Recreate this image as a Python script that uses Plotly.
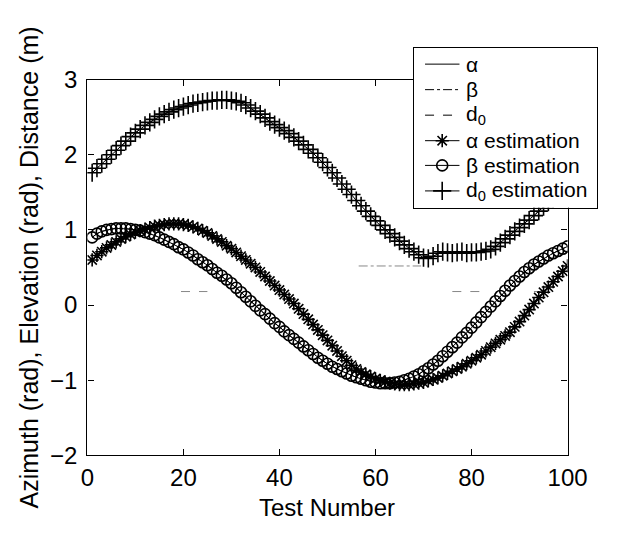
import plotly.graph_objects as go

test_number = list(range(1, 101))

alpha_vals = [0.60, 0.66, 0.71, 0.76, 0.80, 0.84, 0.88, 0.91, 0.94, 0.97,
              0.99, 1.01, 1.03, 1.05, 1.06, 1.07, 1.08, 1.08, 1.08, 1.07,
              1.06, 1.04, 1.02, 0.99, 0.96, 0.92, 0.88, 0.84, 0.79, 0.75,
              0.70, 0.65, 0.60, 0.55, 0.50, 0.44, 0.38, 0.32, 0.26, 0.20,
              0.14, 0.08, 0.02, -0.05, -0.12, -0.19, -0.26, -0.33, -0.40, -0.47,
              -0.54, -0.61, -0.68, -0.74, -0.80, -0.85, -0.89, -0.92, -0.95, -0.98,
              -1.00, -1.02, -1.04, -1.05, -1.06, -1.06, -1.06, -1.05, -1.04, -1.03,
              -1.01, -0.99, -0.97, -0.94, -0.91, -0.88, -0.85, -0.82, -0.78, -0.74,
              -0.70, -0.66, -0.61, -0.56, -0.51, -0.46, -0.41, -0.36, -0.29, -0.22,
              -0.14, -0.06, 0.02, 0.10, 0.17, 0.24, 0.31, 0.38, 0.45, 0.52]

beta_vals = [0.90, 0.95, 0.98, 1.00, 1.01, 1.02, 1.02, 1.02, 1.01, 1.00,
             0.99, 0.97, 0.95, 0.93, 0.90, 0.87, 0.84, 0.81, 0.77, 0.74,
             0.70, 0.66, 0.61, 0.57, 0.53, 0.48, 0.43, 0.39, 0.34, 0.29,
             0.23, 0.17, 0.11, 0.05, -0.01, -0.07, -0.12, -0.18, -0.24, -0.29,
             -0.35, -0.40, -0.45, -0.50, -0.55, -0.60, -0.65, -0.70, -0.74, -0.78,
             -0.82, -0.85, -0.88, -0.91, -0.94, -0.96, -0.98, -1.00, -1.02, -1.03,
             -1.04, -1.04, -1.04, -1.03, -1.02, -1.00, -0.98, -0.95, -0.92, -0.88,
             -0.84, -0.79, -0.74, -0.68, -0.62, -0.56, -0.50, -0.43, -0.37, -0.30,
             -0.23, -0.16, -0.09, -0.02, 0.05, 0.12, 0.19, 0.26, 0.32, 0.38,
             0.44, 0.49, 0.54, 0.58, 0.62, 0.66, 0.69, 0.72, 0.75, 0.78]

d0_vals = [1.76, 1.82, 1.88, 1.94, 2.00, 2.06, 2.12, 2.18, 2.24, 2.29,
           2.34, 2.39, 2.43, 2.47, 2.51, 2.54, 2.57, 2.60, 2.62, 2.64,
           2.66, 2.68, 2.69, 2.70, 2.71, 2.72, 2.72, 2.73, 2.73, 2.72,
           2.71, 2.69, 2.66, 2.62, 2.58, 2.54, 2.49, 2.44, 2.40, 2.36,
           2.32, 2.28, 2.23, 2.18, 2.13, 2.07, 2.02, 1.96, 1.90, 1.83,
           1.76, 1.69, 1.61, 1.54, 1.47, 1.39, 1.32, 1.25, 1.18, 1.12,
           1.06, 1.00, 0.95, 0.90, 0.85, 0.80, 0.75, 0.71, 0.67, 0.63,
           0.62, 0.65, 0.69, 0.71, 0.70, 0.69, 0.70, 0.71, 0.69, 0.70,
           0.70, 0.71, 0.72, 0.74, 0.78, 0.83, 0.88, 0.93, 0.98, 1.03,
           1.08, 1.13, 1.19, 1.25, 1.31, 1.37, 1.42, 1.47, 1.52, 1.57]

# faint horizontal dashed segments visible in the scan
seg_a_x = [56.5, 69.5]
seg_a_y = [0.52, 0.52]
seg_b_x = [19.5, 25.0, None, 76.0, 82.0, None, 93.0, 94.5]
seg_b_y = [0.18, 0.18, None, 0.18, 0.18, None, 0.18, 0.18]

x_ticks = [0, 20, 40, 60, 80, 100]
y_ticks = [-2, -1, 0, 1, 2, 3]
y_tick_text = ["−2", "−1", "0", "1", "2", "3"]

legend_labels = ["α", "β", "d<sub>0</sub>", "α estimation", "β estimation", "d<sub>0</sub> estimation"]
legend_row_y = [0.90, 0.74, 0.58, 0.42, 0.265, 0.105]

FONT = "Liberation Sans, Arial, sans-serif"
BLACK = "black"
W, H = 622, 533
PLOT_L, PLOT_R, PLOT_T, PLOT_B = 84, 586, 69, 465
LEG_L, LEG_R, LEG_T, LEG_B = 425, 617, 36, 204

line_styles = [dict(width=1, dash="solid"), dict(width=1, dash="dashdot"), dict(width=1, dash="dash"),
               dict(width=1, dash="solid"), dict(width=1, dash="solid"), dict(width=1, dash="solid")]
marker_styles = [None, None, None,
                 dict(symbol="asterisk-open", size=11),
                 dict(symbol="circle-open", size=11),
                 dict(symbol="cross-thin-open", size=13)]

fig = go.Figure()
fig.add_trace(go.Scatter(x=seg_a_x, y=seg_a_y, mode="lines", showlegend=False,
                         line=dict(color="#888", width=1, dash="dashdot")))
fig.add_trace(go.Scatter(x=seg_b_x, y=seg_b_y, mode="lines", showlegend=False,
                         line=dict(color="#888", width=1, dash="dash")))

series = [alpha_vals, beta_vals, d0_vals, alpha_vals, beta_vals, d0_vals]
for i, vals in enumerate(series):
    ms = marker_styles[i]
    kw = dict(x=test_number, y=vals, showlegend=False, name=legend_labels[i],
              line=dict(color=BLACK, **line_styles[i]))
    if ms is None:
        fig.add_trace(go.Scatter(mode="lines", **kw))
    else:
        fig.add_trace(go.Scatter(mode="lines+markers",
                                 marker=dict(color=BLACK, line=dict(color=BLACK, width=1.6), **ms), **kw))

# legend box drawn as an inset subplot (opaque, like MATLAB's legend)
for i in range(6):
    ms = marker_styles[i]
    fig.add_trace(go.Scatter(x=[0.0625, 0.25], y=[legend_row_y[i]] * 2, mode="lines",
                             xaxis="x2", yaxis="y2", showlegend=False, hoverinfo="skip",
                             line=dict(color=BLACK, **line_styles[i])))
    if ms is not None:
        fig.add_trace(go.Scatter(x=[0.156], y=[legend_row_y[i]], mode="markers",
                                 xaxis="x2", yaxis="y2", showlegend=False, hoverinfo="skip",
                                 marker=dict(color=BLACK, line=dict(color=BLACK, width=1.6), **ms)))
    fig.add_annotation(x=0.28, y=legend_row_y[i], xref="x2", yref="y2", text=legend_labels[i],
                       showarrow=False, xanchor="left", yanchor="middle", borderpad=0,
                       font=dict(family=FONT, size=21, color=BLACK))

axis_common = dict(showline=True, linecolor=BLACK, linewidth=1.3, mirror="ticks",
                   ticks="inside", ticklen=6, tickcolor=BLACK, showgrid=False,
                   zeroline=False, tickfont=dict(family=FONT, size=24, color=BLACK))

fig.add_annotation(x=(PLOT_L + PLOT_R) / 2 / W, y=1 - 520 / H, xref="paper", yref="paper",
                   text="Test Number", showarrow=False, xanchor="center", yanchor="middle",
                   borderpad=0, font=dict(family=FONT, size=24, color=BLACK))
fig.add_annotation(x=23 / W, y=1 - (PLOT_T + PLOT_B) / 2 / H, xref="paper", yref="paper",
                   text="Azimuth (rad), Elevation (rad), Distance (m)", textangle=-90,
                   showarrow=False, xanchor="center", yanchor="middle",
                   borderpad=0, font=dict(family=FONT, size=25, color=BLACK))

fig.update_layout(
    width=W, height=H,
    margin=dict(l=0, r=0, t=0, b=0),
    paper_bgcolor="white", plot_bgcolor="white",
    font=dict(family=FONT, color=BLACK),
    showlegend=False,
    xaxis=dict(range=[0, 100], tickvals=x_ticks, domain=[PLOT_L / W, PLOT_R / W],
               ticklabelstandoff=1, **axis_common),
    yaxis=dict(range=[-2, 3], tickvals=y_ticks, ticktext=y_tick_text,
               domain=[1 - PLOT_B / H, 1 - PLOT_T / H],
               ticklabelstandoff=4, **axis_common),
    xaxis2=dict(range=[0, 1], domain=[LEG_L / W, LEG_R / W], anchor="y2",
                showticklabels=False, ticks="", showgrid=False, zeroline=False,
                showline=True, mirror=True, linecolor=BLACK, linewidth=1.3, fixedrange=True),
    yaxis2=dict(range=[0, 1], domain=[1 - LEG_B / H, 1 - LEG_T / H], anchor="x2",
                showticklabels=False, ticks="", showgrid=False, zeroline=False,
                showline=True, mirror=True, linecolor=BLACK, linewidth=1.3, fixedrange=True),
)

fig.write_html("out.html")
